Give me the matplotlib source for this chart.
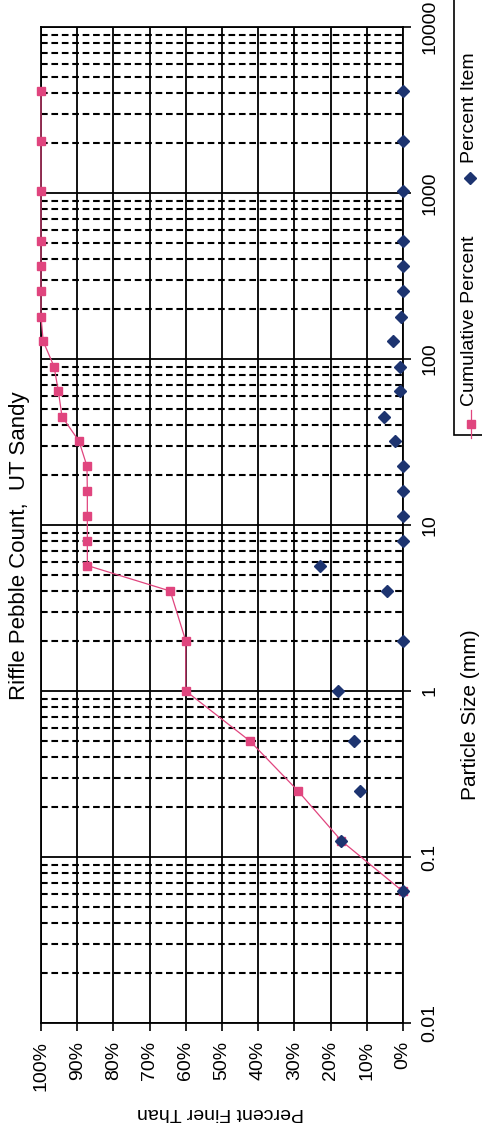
import matplotlib
matplotlib.use("Agg")
import matplotlib.pyplot as plt
from matplotlib.lines import Line2D
from matplotlib.patches import Rectangle
from matplotlib.ticker import FixedLocator, NullFormatter

plt.rcParams["font.family"] = ["Liberation Sans", "DejaVu Sans"]

# pebble size classes (mm) and measured percentages
sizes = [0.062, 0.125, 0.25, 0.5, 1, 2, 4, 5.7, 8, 11.3, 16, 22.6,
         32, 45, 64, 90, 128, 180, 256, 362, 512, 1024, 2048, 4096]
cumulative_pct = [0, 17, 29, 42.3, 60, 60, 64.3, 87.2, 87.2, 87.2, 87.2, 87.3,
                  89.5, 94.2, 95.2, 96.4, 99.4, 100, 100, 100, 100, 100, 100, 100]
item_pct = [0, 17.1, 11.9, 13.6, 18, 0, 4.3, 23, 0, 0, 0, 0,
            2.3, 5.3, 0.8, 0.7, 2.9, 0.6, 0, 0, 0, 0, 0, 0]

pct_ticks = list(range(0, 101, 10))
pct_labels = [f"{p}%" for p in pct_ticks]
size_ticks = [0.01, 0.1, 1, 10, 100, 1000, 10000]
size_labels = ["0.01", "0.1", "1", "10", "100", "1000", "10000"]

PINK = "#e0457e"
NAVY = "#1d3470"

W, H = 482, 1130
fig = plt.figure(figsize=(W / 100, H / 100), dpi=100)
fig.patch.set_facecolor("white")

# chart is laid out sideways: percent runs right-to-left, size runs upward
x0, x1, y_top, y_bot = 41, 403, 27, 1023
ax = fig.add_axes([x0 / W, 1 - y_bot / H, (x1 - x0) / W, (y_bot - y_top) / H])
ax.set_yscale("log")
ax.set_xlim(100, 0)
ax.set_ylim(0.01, 10000)

ax.set_xticks(pct_ticks)
ax.set_xticklabels(pct_labels, rotation=90, fontsize=14)
ax.set_yticks(size_ticks)
ax.set_yticklabels(size_labels, rotation=90, va="center", fontsize=14)
minor = [m * 10.0 ** e for e in range(-2, 4) for m in range(2, 10)]
ax.yaxis.set_minor_locator(FixedLocator(minor))
ax.yaxis.set_minor_formatter(NullFormatter())
ax.yaxis.tick_right()
ax.tick_params(axis="both", which="major", direction="out", length=6,
               width=1.2, color="black", pad=7)
ax.tick_params(axis="y", which="minor", length=0)

ax.grid(True, which="major", axis="both", color="black", lw=1.3)
ax.grid(True, which="minor", axis="y", color="black", lw=1.5,
        linestyle=(0, (3.2, 1.8)))
ax.set_axisbelow(True)
for s in ax.spines.values():
    s.set_color("black")
    s.set_linewidth(1.3)

ax.plot(cumulative_pct, sizes, color=PINK, lw=0.9, marker="s",
        markersize=6.3, markerfacecolor=PINK, markeredgecolor=PINK,
        clip_on=False, zorder=3)
ax.plot(item_pct, sizes, linestyle="none", marker="D", markersize=6.5,
        color=NAVY, clip_on=False, zorder=4)

fig.text(20 / W, 1 - 546 / H, "Riffle Pebble Count,  UT Sandy", rotation=90,
         ha="center", va="center", fontsize=16)
fig.text(470 / W, 1 - 715 / H, "Particle Size (mm)", rotation=90,
         ha="center", va="center", fontsize=15)
fig.text(220 / W, 1 - 1113 / H, "Percent Finer Than", rotation=180,
         ha="center", va="center", fontsize=14)

# legend box, running off the top right corner
fig.add_artist(Rectangle((454 / W, 1 - 435 / H), 0.2, 0.5,
                         transform=fig.transFigure, facecolor="white",
                         edgecolor="black", lw=1.2))
fig.add_artist(Line2D([471 / W, 471 / W], [1 - 438 / H, 1 - 410 / H],
                      transform=fig.transFigure, color=PINK, lw=0.9))
fig.add_artist(Line2D([471 / W], [1 - 424 / H], transform=fig.transFigure,
                      marker="s", markersize=6, color=PINK,
                      linestyle="none"))
fig.text(469 / W, 1 - 406 / H, "Cumulative Percent", rotation=90,
         ha="center", va="bottom", fontsize=14)
fig.add_artist(Line2D([470 / W], [1 - 178 / H], transform=fig.transFigure,
                      marker="D", markersize=6.5, color=NAVY,
                      linestyle="none"))
fig.text(469 / W, 1 - 163 / H, "Percent Item", rotation=90,
         ha="center", va="bottom", fontsize=14)

fig.savefig("out.png", dpi=100)
